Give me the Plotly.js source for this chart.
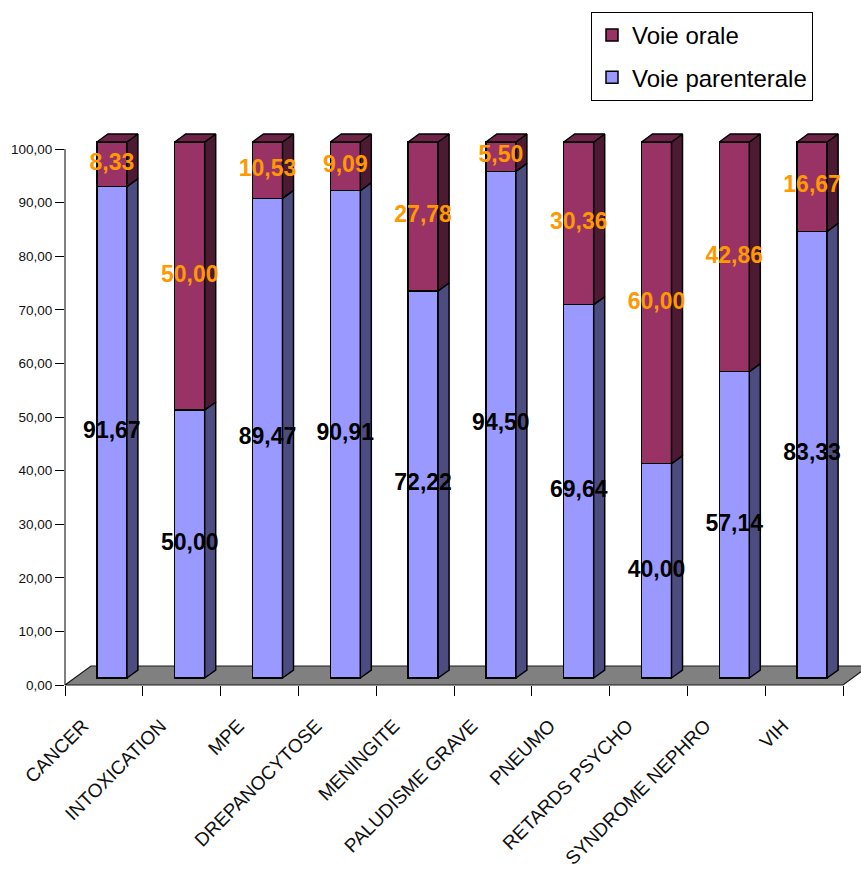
<!DOCTYPE html>
<html>
<head>
<meta charset="utf-8">
<script src="https://cdn.plot.ly/plotly-3.0.1.min.js"></script>
<style>
  html, body { margin: 0; padding: 0; background: #ffffff; }
  #chart { width: 861px; height: 872px; }
</style>
</head>
<body>
<div id="chart"></div>
<script>
// Répartition (%) de la voie d'administration par pathologie
const categories = ['CANCER', 'INTOXICATION', 'MPE', 'DREPANOCYTOSE', 'MENINGITE',
                    'PALUDISME GRAVE', 'PNEUMO', 'RETARDS PSYCHO', 'SYNDROME NEPHRO', 'VIH'];
const parenterale = [91.67, 50.00, 89.47, 90.91, 72.22, 94.50, 69.64, 40.00, 57.14, 83.33];
const orale       = [8.33, 50.00, 10.53, 9.09, 27.78, 5.50, 30.36, 60.00, 42.86, 16.67];
const seriesNames = ['Voie parenterale', 'Voie orale'];
const yTickVals = [0, 10, 20, 30, 40, 50, 60, 70, 80, 90, 100];
const yTickText = ['0,00', '10,00', '20,00', '30,00', '40,00', '50,00',
                   '60,00', '70,00', '80,00', '90,00', '100,00'];

// ---- page geometry (pixels) ----
const W = 861, H = 872;
const plotL = 65, plotR = 861, plotT = 118, plotB = 700;
const kx = 77.8;        // px per category
const ky = 5.36;        // px per percentage point
const zeroPx = 685;     // pixel row of value 0 on the front plane

// perspective offsets, converted to axis units
const barShiftX = 8 / kx, barShiftY = 7 / ky;     // bar front plane vs axis plane
const depthX = 11 / kx, depthY = 8 / ky;          // bar depth
const floorX = 26 / kx, floorY = 19 / ky;         // floor depth
const barW = 30 / kx;

const xRange = [-0.5, -0.5 + (plotR - plotL) / kx];
const yRange = [(zeroPx - plotB) / ky, (zeroPx - plotT) / ky];

const font = 'Liberation Sans, Arial, sans-serif';
const idx = categories.map((c, i) => i);
const fmt = v => v.toFixed(2).replace('.', ',');

const colBlue = '#9999ff', colBlueSide = '#4c4c80';
const colPurple = '#993366', colPurpleSide = '#4c1a33', colPurpleTop = '#6e2449';

// polygons of the side and top faces of every bar
function sideFaces(lo, hi) {
  const xs = [], ys = [];
  idx.forEach(i => {
    const xr = i + barW / 2;
    xs.push(xr, xr + depthX, xr + depthX, xr, xr, null);
    ys.push(lo[i], lo[i] + depthY, hi[i] + depthY, hi[i], lo[i], null);
  });
  return { xs, ys };
}
const zeros = idx.map(() => 0);
const totals = idx.map(i => parenterale[i] + orale[i]);
const blueSide = sideFaces(zeros, parenterale);
const purpleSide = sideFaces(parenterale, totals);
const topX = [], topY = [];
idx.forEach(i => {
  const xl = i - barW / 2, xr = i + barW / 2, t = totals[i];
  topX.push(xl, xl + depthX, xr + depthX, xr, xl, null);
  topY.push(t, t + depthY, t + depthY, t, t, null);
});

const edge = { color: '#000000', width: 1.5 };

const traces = [
  // floor of the chart
  {
    type: 'scatter', mode: 'lines', xaxis: 'x', yaxis: 'y',
    x: [-0.5, 9.5, 9.5 + floorX, -0.5 + floorX, -0.5],
    y: [0, 0, floorY, floorY, 0],
    fill: 'toself', fillcolor: '#808080',
    line: { color: '#1a1a1a', width: 1.2 },
    showlegend: false, hoverinfo: 'skip'
  },
  {
    type: 'bar', name: seriesNames[0], legendgroup: 'p', legendrank: 2,
    x: idx, y: parenterale, width: barW, xaxis: 'x2', yaxis: 'y2',
    marker: { color: colBlue, line: edge },
    textposition: 'none', hoverinfo: 'skip'
  },
  {
    type: 'bar', name: seriesNames[1], legendgroup: 'o', legendrank: 1,
    x: idx, y: orale, width: barW, xaxis: 'x2', yaxis: 'y2',
    marker: { color: colPurple, line: edge },
    textposition: 'none', hoverinfo: 'skip'
  },
  {
    type: 'scatter', mode: 'lines', xaxis: 'x2', yaxis: 'y2',
    x: blueSide.xs, y: blueSide.ys, fill: 'toself', fillcolor: colBlueSide,
    line: edge, showlegend: false, hoverinfo: 'skip'
  },
  {
    type: 'scatter', mode: 'lines', xaxis: 'x2', yaxis: 'y2',
    x: purpleSide.xs, y: purpleSide.ys, fill: 'toself', fillcolor: colPurpleSide,
    line: edge, showlegend: false, hoverinfo: 'skip'
  },
  {
    type: 'scatter', mode: 'lines', xaxis: 'x2', yaxis: 'y2',
    x: topX, y: topY, fill: 'toself', fillcolor: colPurpleTop,
    line: edge, showlegend: false, hoverinfo: 'skip'
  },
  // value labels, centred on each segment
  {
    type: 'scatter', mode: 'text', xaxis: 'x2', yaxis: 'y2',
    x: idx, y: parenterale.map(v => v / 2), text: parenterale.map(fmt),
    textposition: 'middle center', cliponaxis: false,
    textfont: { family: font, size: 23, weight: 'bold', color: '#000000' },
    showlegend: false, hoverinfo: 'skip'
  },
  {
    type: 'scatter', mode: 'text', xaxis: 'x2', yaxis: 'y2',
    x: idx, y: idx.map(i => parenterale[i] + orale[i] / 2), text: orale.map(fmt),
    textposition: 'middle center', cliponaxis: false,
    textfont: { family: font, size: 23, weight: 'bold', color: '#ff9900' },
    showlegend: false, hoverinfo: 'skip'
  }
];

const layout = {
  width: W, height: H,
  margin: { l: plotL, r: W - plotR, t: plotT, b: H - plotB, pad: 0, autoexpand: false },
  paper_bgcolor: '#ffffff', plot_bgcolor: 'rgba(0,0,0,0)',
  separators: ', ',
  barmode: 'stack',
  hovermode: false,
  font: { family: font, color: '#000000' },
  xaxis: {
    range: xRange, type: 'linear', fixedrange: true,
    anchor: 'free', position: (plotB - zeroPx) / (plotB - plotT),
    tickmode: 'array', tickvals: idx, ticktext: categories,
    ticks: '', tickangle: -45, automargin: false,
    ticklabelshift: -21, ticklabelstandoff: 25,
    tickfont: { family: font, size: 19, color: '#111111' },
    minor: { ticks: 'outside', ticklen: 10, tickwidth: 1, tickcolor: '#000000',
             tickmode: 'linear', tick0: -0.5, dtick: 1 },
    showgrid: false, zeroline: false, showline: false
  },
  yaxis: {
    range: yRange, type: 'linear', fixedrange: true,
    tickmode: 'array', tickvals: yTickVals, ticktext: yTickText,
    ticks: 'outside', ticklen: 9, tickwidth: 1, tickcolor: '#000000',
    tickfont: { family: font, size: 13.5, color: '#111111' },
    showgrid: false, zeroline: false, showline: false, automargin: false
  },
  xaxis2: {
    overlaying: 'x', range: [xRange[0] - barShiftX, xRange[1] - barShiftX],
    visible: false, fixedrange: true
  },
  yaxis2: {
    overlaying: 'y', range: [yRange[0] - barShiftY, yRange[1] - barShiftY],
    visible: false, fixedrange: true
  },
  shapes: [
    { type: 'line', xref: 'paper', yref: 'y', x0: 0, x1: 0, y0: 0, y1: 100,
      line: { color: '#000000', width: 1 }, layer: 'above' }
  ],
  showlegend: true,
  legend: {
    xref: 'container', yref: 'container',
    x: 591 / W, y: 1 - 12 / H, xanchor: 'left', yanchor: 'top',
    bgcolor: '#ffffff', bordercolor: '#000000', borderwidth: 1,
    font: { family: font, size: 24, color: '#000000' },
    traceorder: 'grouped', tracegroupgap: 8
  }
};

Plotly.newPlot('chart', traces, layout, { staticPlot: true, displayModeBar: false });
</script>
</body>
</html>
